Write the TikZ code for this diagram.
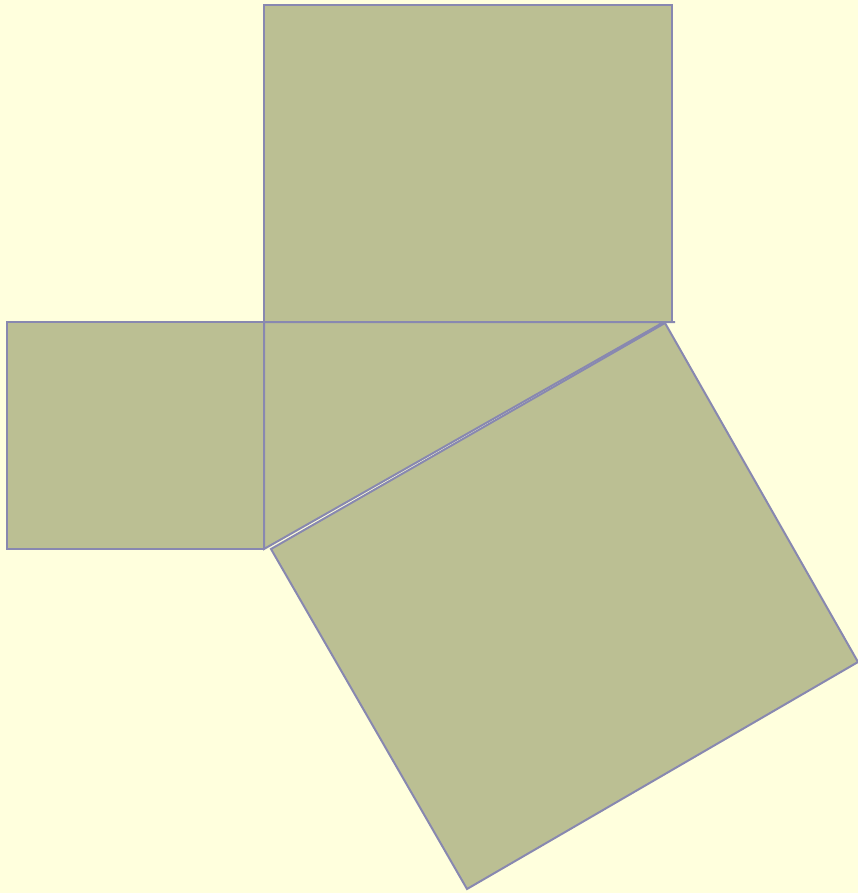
\documentclass[tikz,border=0pt]{standalone}
\usepackage{tikz}

\definecolor{paper}{RGB}{255,255,221}
\definecolor{olive}{RGB}{187,191,147}
\definecolor{edgeblue}{RGB}{136,136,176}

\begin{document}
\begin{tikzpicture}[x=1pt,y=-1pt,
                    tile/.style={fill=olive, draw=edgeblue, line width=2pt, line join=miter}]

  %Background%
  \fill[paper] (0,0) rectangle (858,893);
  \useasboundingbox (0,0) rectangle (858,893);

  %Corners of the triangle%
  \coordinate (A) at (264,549);
  \coordinate (B) at (264,322);
  \coordinate (C) at (664,322);

  %Square on the long leg%
  \draw[tile] (264,5) rectangle (672,322);
  %Square on the short leg%
  \draw[tile] (7,322) rectangle (B |- A);
  %Triangle%
  \draw[tile] (A) -- (B) -- (675,322) -- (C) -- cycle;
  %Square on the hypotenuse%
  \draw[tile] (271,549) -- (665,323) -- (858,662) -- (467,889) -- cycle;
\end{tikzpicture}
\end{document}
